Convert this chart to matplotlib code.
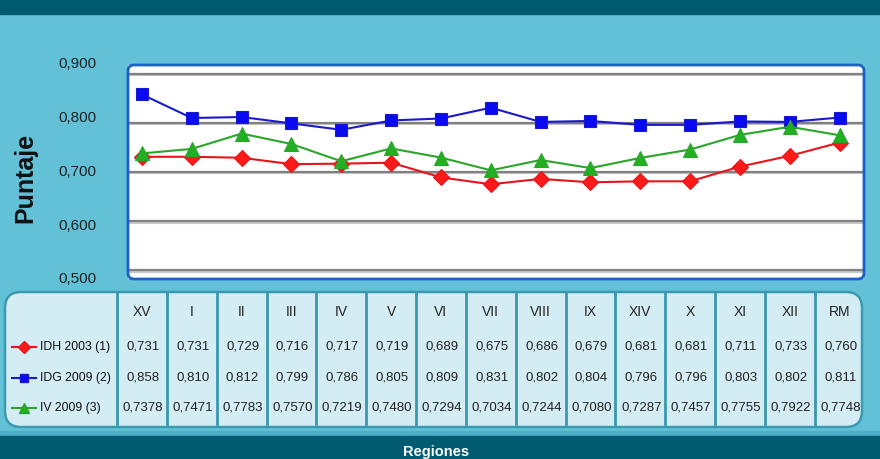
import numpy as np
import matplotlib
matplotlib.use('Agg')
import matplotlib.pyplot as plt
from matplotlib.patches import FancyBboxPatch, Rectangle
from matplotlib.transforms import IdentityTransform

plt.rcParams['font.family'] = ['Liberation Sans', 'DejaVu Sans']

regiones = ['XV', 'I', 'II', 'III', 'IV', 'V', 'VI', 'VII', 'VIII', 'IX', 'XIV', 'X', 'XI', 'XII', 'RM']
idh_2003 = [0.731, 0.731, 0.729, 0.716, 0.717, 0.719, 0.689, 0.675, 0.686, 0.679, 0.681, 0.681, 0.711, 0.733, 0.760]
idg_2009 = [0.858, 0.810, 0.812, 0.799, 0.786, 0.805, 0.809, 0.831, 0.802, 0.804, 0.796, 0.796, 0.803, 0.802, 0.811]
iv_2009 = [0.7378, 0.7471, 0.7783, 0.7570, 0.7219, 0.7480, 0.7294, 0.7034, 0.7244, 0.7080, 0.7287, 0.7457, 0.7755, 0.7922, 0.7748]
series_names = ['IDH 2003 (1)', 'IDG 2009 (2)', 'IV 2009 (3)']
y_ticks = [0.5, 0.6, 0.7, 0.8, 0.9]

W, H = 880, 460
bg = '#62c1d6'
dark = '#005a70'
styles = [('#e8141b', 'D', 8.5, '#ff1a1a'),
          ('#1a1acc', 's', 8.5, '#0a0af0'),
          ('#2aa52a', '^', 10, '#22b022')]


def fx(px):
    return px / W


def fy(py):
    return 1 - py / H


fig = plt.figure(figsize=(W / 100, H / 100), dpi=100)
fig.patch.set_facecolor(bg)

# bands top and bottom
fig.patches.append(Rectangle((0, fy(15)), 1, 15 / H, transform=fig.transFigure, color=dark, zorder=-2))
fig.patches.append(Rectangle((0, 0), 1, fy(432), transform=fig.transFigure, color='#4eb0c7', zorder=-2))
fig.patches.append(Rectangle((0, 0), 1, fy(437), transform=fig.transFigure, color=dark, zorder=-2))
fig.text(0.495, fy(452), 'Regiones', color='white', fontsize=10.5, fontweight='bold',
         ha='center', va='center')

# plot area
left, right, top, bottom = 128, 864, 66, 280
ax = fig.add_axes([fx(left), fy(bottom), fx(right - left), (bottom - top) / H])
ax.set_facecolor('white')
x = np.arange(len(regiones))
x0, x1 = -0.28, 14.49
ax.set_xlim(x0, x1)
ax.set_ylim(0.482, 0.918)
for v in y_ticks:
    ax.axhline(v - 0.003, color='#c8c8c8', lw=1.5, zorder=1)
    ax.axhline(v, color='#808080', lw=1.6, zorder=1)
for s in ax.spines.values():
    s.set_visible(False)
ax.set_xticks([])
ax.set_yticks([])
for vals, (lc, mk, ms, mc) in zip([idh_2003, idg_2009, iv_2009], styles):
    ax.plot(x, vals, color=lc, lw=1.5, marker=mk, ms=ms, mfc=mc, mec=lc, mew=0.8, zorder=3)

frame = FancyBboxPatch((left, H - bottom), right - left, bottom - top,
                       boxstyle='round,pad=0,rounding_size=6', transform=IdentityTransform(),
                       fill=False, edgecolor='#1f5fc8', lw=2, zorder=5)
fig.patches.append(frame)

# y tick labels (shifted, as in the original)
lab = fig.add_axes([fx(left), fy(278), 0.001, (278 - 63) / H])
lab.set_ylim(0.5, 0.9)
lab.set_yticks(y_ticks)
lab.set_yticklabels([f'{v:.3f}'.replace('.', ',') for v in y_ticks], fontsize=11, color='#222222')
lab.tick_params(axis='y', length=0, pad=23)
lab.set_xticks([])
for s in lab.spines.values():
    s.set_visible(False)
lab.patch.set_visible(False)

fig.text(fx(25), fy(178), 'Puntaje', rotation=90, fontsize=18, fontweight='bold',
         color='#111111', ha='center', va='center')

# data table
t_left, t_right, t_top, t_bot = 5, 862, 293, 428
upx = (right - left) / (x1 - x0)
tab = fig.add_axes([fx(t_left), fy(t_bot), fx(t_right - t_left), (t_bot - t_top) / H])
tab.set_xlim(x0 - (left - t_left) / upx, x1 - (right - t_right) / upx)
tab.set_ylim(t_bot, t_top)
tab.axis('off')
box = FancyBboxPatch((t_left, H - t_bot), t_right - t_left, t_bot - t_top,
                     boxstyle='round,pad=0,rounding_size=16', transform=IdentityTransform(),
                     facecolor='#d4ecf3', edgecolor='#3a9ab2', lw=1.8, zorder=-1)
fig.patches.append(box)
for i in range(len(regiones)):
    tab.plot([i - 0.5, i - 0.5], [t_top, t_bot - 3], color='#3a97ad', lw=2)
row_y = [312, 347, 378, 408]
for i, r in enumerate(regiones):
    tab.text(i, row_y[0], r, ha='center', va='center', fontsize=10, color='#222222')
fmts = ['{:.3f}', '{:.3f}', '{:.4f}']
for k, vals in enumerate([idh_2003, idg_2009, iv_2009]):
    for i, v in enumerate(vals):
        tab.text(i + 0.02, row_y[k + 1], fmts[k].format(v).replace('.', ','), ha='center', va='center',
                 fontsize=9.5, color='#222222')
    lc, mk, ms, mc = styles[k]
    lx = tab.get_xlim()[0]
    tab.plot([lx + 7 / upx, lx + 31 / upx], [row_y[k + 1] + 1] * 2, color=lc, lw=1.5)
    tab.plot([lx + 19 / upx], [row_y[k + 1] + 1], marker=mk, ms=ms * 0.72, color=mc, mec=lc)
    tab.text(lx + 35 / upx, row_y[k + 1], series_names[k], ha='left', va='center',
             fontsize=8.8, color='#111111')

fig.savefig('out.png', dpi=100, facecolor=fig.get_facecolor())
